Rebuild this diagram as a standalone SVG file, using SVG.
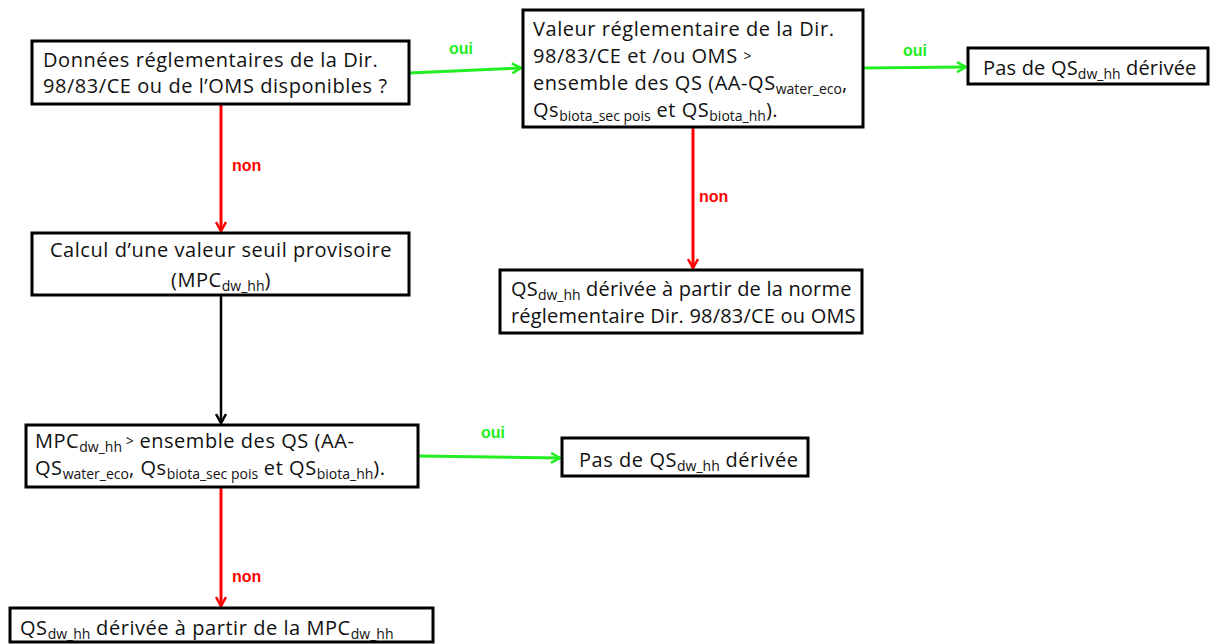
<svg xmlns="http://www.w3.org/2000/svg" width="1213" height="644" viewBox="0 0 1213 644">
<style>
.box{fill:#fff;stroke:#000;stroke-width:3}
.t{font-family:"Open Sans","Liberation Sans",sans-serif;font-size:20px;letter-spacing:0.55px;fill:#111}
.tn{letter-spacing:0.2px}
.s{font-size:14px;letter-spacing:0}
.lbl{font-family:"Liberation Sans",Arial,sans-serif;font-size:16px;font-weight:bold}
.g{fill:#22ee22}.r{fill:#ff0000}
.cg{stroke:#22ee22;stroke-width:3;fill:none}
.cr{stroke:#ff0000;stroke-width:3;fill:none}
.ck{stroke:#000;stroke-width:2.5;fill:none}
</style>
<defs>
<marker id="ag" markerWidth="12" markerHeight="12" refX="10" refY="6" orient="auto" markerUnits="userSpaceOnUse"><path d="M1,1 L10,6 L1,11" fill="none" stroke="#22ee22" stroke-width="2.5"/></marker>
<marker id="ar" markerWidth="12" markerHeight="12" refX="10" refY="6" orient="auto" markerUnits="userSpaceOnUse"><path d="M1,1 L10,6 L1,11" fill="none" stroke="#ff0000" stroke-width="2.5"/></marker>
<marker id="ak" markerWidth="12" markerHeight="12" refX="10" refY="6" orient="auto" markerUnits="userSpaceOnUse"><path d="M1,1 L10,6 L1,11" fill="none" stroke="#000" stroke-width="2.5"/></marker>
</defs>
<g id="connectors">
<line class="cg" x1="409" y1="73" x2="521" y2="68" marker-end="url(#ag)"/>
<line class="cg" x1="863" y1="68" x2="966" y2="67" marker-end="url(#ag)"/>
<line class="cr" x1="221" y1="104" x2="221" y2="231" marker-end="url(#ar)"/>
<line class="cr" x1="693" y1="127" x2="693" y2="268" marker-end="url(#ar)"/>
<line class="ck" x1="221" y1="295" x2="221" y2="423" marker-end="url(#ak)"/>
<line class="cg" x1="418" y1="456" x2="560" y2="458" marker-end="url(#ag)"/>
<line class="cr" x1="221" y1="487" x2="221" y2="606" marker-end="url(#ar)"/>
<text class="lbl g" x="461" y="54" text-anchor="middle">oui</text>
<text class="lbl g" x="915" y="56" text-anchor="middle">oui</text>
<text class="lbl g" x="493" y="438" text-anchor="middle">oui</text>
<text class="lbl r" x="232" y="171">non</text>
<text class="lbl r" x="699" y="202">non</text>
<text class="lbl r" x="232" y="582">non</text>
</g>
<g id="n1">
<rect class="box" x="32" y="41" width="377" height="63"/>
<text class="t" x="43" y="67">Données réglementaires de la Dir.</text>
<text class="t" x="43" y="93">98/83/CE ou de l’OMS disponibles ?</text>
</g>
<g id="n2">
<rect class="box" x="523" y="10" width="340" height="117"/>
<text class="t" x="533" y="36">Valeur réglementaire de la Dir.</text>
<text class="t" x="533" y="63">98/83/CE et /ou OMS <tspan class="s" dy="-2">&gt;</tspan></text>
<text class="t" x="533" y="90">ensemble des QS (AA-QS<tspan class="s" dy="4">water_eco</tspan><tspan dy="-4">,</tspan></text>
<text class="t" x="533" y="117">Qs<tspan class="s" dy="4">biota_sec pois</tspan><tspan dy="-4"> et QS</tspan><tspan class="s" dy="4">biota_hh</tspan><tspan dy="-4">).</tspan></text>
</g>
<g id="n3">
<rect class="box" x="968" y="48" width="240" height="36"/>
<text class="t tn" x="983" y="75">Pas de QS<tspan class="s" dy="4">dw_hh</tspan><tspan dy="-4"> dérivée</tspan></text>
</g>
<g id="n4">
<rect class="box" x="32" y="233" width="377" height="62"/>
<text class="t" x="221" y="257" text-anchor="middle">Calcul d’une valeur seuil provisoire</text>
<text class="t" x="221" y="287" text-anchor="middle">(MPC<tspan class="s" dy="4">dw_hh</tspan><tspan dy="-4">)</tspan></text>
</g>
<g id="n5">
<rect class="box" x="500" y="270" width="362" height="63"/>
<text class="t tn" x="511" y="296">QS<tspan class="s" dy="4">dw_hh</tspan><tspan dy="-4"> dérivée à partir de la norme</tspan></text>
<text class="t tn" x="511" y="323">réglementaire Dir. 98/83/CE ou OMS</text>
</g>
<g id="n6">
<rect class="box" x="26" y="425" width="392" height="62"/>
<text class="t" x="35" y="448">MPC<tspan class="s" dy="4">dw_hh</tspan><tspan class="s" dy="-6"> &gt;</tspan><tspan dy="2"> ensemble des QS (AA-</tspan></text>
<text class="t" x="35" y="475">QS<tspan class="s" dy="4">water_eco</tspan><tspan dy="-4">, Qs</tspan><tspan class="s" dy="4">biota_sec pois</tspan><tspan dy="-4"> et QS</tspan><tspan class="s" dy="4">biota_hh</tspan><tspan dy="-4">).</tspan></text>
</g>
<g id="n7">
<rect class="box" x="562" y="438" width="246" height="38"/>
<text class="t" x="579" y="467">Pas de QS<tspan class="s" dy="4">dw_hh</tspan><tspan dy="-4"> dérivée</tspan></text>
</g>
<g id="n8">
<rect class="box" x="10" y="608" width="423" height="34"/>
<text class="t" x="20" y="635">QS<tspan class="s" dy="4">dw_hh</tspan><tspan dy="-4"> dérivée à partir de la MPC</tspan><tspan class="s" dy="4">dw_hh</tspan></text>
</g>
</svg>
